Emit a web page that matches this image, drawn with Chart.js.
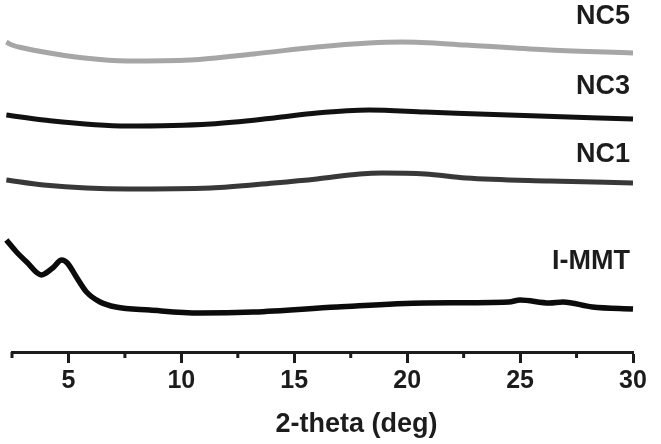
<!DOCTYPE html>
<html>
<head>
<meta charset="utf-8">
<script src="https://cdn.jsdelivr.net/npm/chart.js@4.4.1/dist/chart.umd.min.js"></script>
<style>
  html, body { margin: 0; padding: 0; background: #fff; }
  #wrap { width: 661px; height: 444px; }
</style>
</head>
<body>
<div id="wrap"><canvas id="xrd" width="661" height="444"></canvas></div>
<script>
// 2-theta positions (deg) and intensities (a.u., stacked with offsets)
const nc5X = [2.25, 2.5, 3.0, 3.9, 5.7, 7.6, 10.4, 13.2, 16.0, 18.3, 19.8, 22.6, 26.3, 30];
const nc5Y = [310, 307, 304, 300, 294, 291, 292, 298, 305, 309, 310, 307, 302, 299];

const nc3X = [2.25, 3.9, 7.6, 11.3, 14.1, 16.0, 18.3, 20.8, 24.5, 30];
const nc3Y = [237, 232, 226, 228, 234, 239, 242, 240, 237, 233];

const nc1X = [2.25, 3.9, 7.6, 11.3, 14.1, 16.0, 17.9, 18.9, 20.8, 22.6, 26.3, 30];
const nc1Y = [172, 167, 163, 164, 169, 173, 178, 179, 178, 174, 171, 169];

const mmtX = [2.25, 2.7, 3.15, 3.8, 4.3, 4.7, 4.95, 5.35, 5.8, 6.4, 7.1, 8.6, 10.8, 13.2, 16.9, 20.8, 24.5, 25.0, 26.3, 26.9, 28.2, 30];
const mmtY = [112, 100, 90, 77, 84, 92, 89, 75, 60, 50, 45, 42, 39, 40, 45, 49, 50, 52, 49, 50, 45, 43];

const seriesNames = ["NC5", "NC3", "NC1", "I-MMT"];
const majorTicks = [5, 10, 15, 20, 25, 30];
const minorTicks = [2.5, 7.5, 12.5, 17.5, 22.5, 27.5];
const axisTitle = "2-theta (deg)";

const toPoints = (xs, ys) => xs.map((x, i) => ({ x, y: ys[i] }));
const FONT = '"Liberation Sans", Arial, sans-serif';
const INK = "#1c1c1c";

// curve labels at the right end of each trace
const labelRows = [17, 87, 155, 262];
const curveLabels = {
  id: "curveLabels",
  afterDraw(chart) {
    const { ctx, chartArea } = chart;
    ctx.save();
    ctx.font = `bold 27px ${FONT}`;
    ctx.fillStyle = INK;
    ctx.textAlign = "right";
    ctx.textBaseline = "middle";
    seriesNames.forEach((name, i) => ctx.fillText(name, chartArea.right - 3, labelRows[i]));
    ctx.restore();
  }
};

// short minor ticks + x axis title (sits right of centre in the original)
const axisExtras = {
  id: "axisExtras",
  afterDraw(chart) {
    const { ctx } = chart;
    const xs = chart.scales.x;
    ctx.save();
    ctx.strokeStyle = INK;
    ctx.lineWidth = 3;
    minorTicks.forEach((v) => {
      const px = xs.getPixelForValue(v);
      ctx.beginPath();
      ctx.moveTo(px, xs.top);
      ctx.lineTo(px, xs.top + 6);
      ctx.stroke();
    });
    ctx.font = `bold 27px ${FONT}`;
    ctx.fillStyle = INK;
    ctx.textAlign = "center";
    ctx.textBaseline = "middle";
    ctx.fillText(axisTitle, (xs.left + xs.right) / 2 + 34, xs.top + 73);
    ctx.restore();
  }
};

const line = (label, xs, ys, color, width) => ({
  label,
  data: toPoints(xs, ys),
  borderColor: color,
  borderWidth: width,
  pointRadius: 0,
  cubicInterpolationMode: "monotone",
  clip: 10,
  fill: false
});

new Chart(document.getElementById("xrd"), {
  type: "line",
  data: {
    datasets: [
      line("NC5", nc5X, nc5Y, "#a6a6a6", 5),
      line("NC3", nc3X, nc3Y, "#111", 5),
      line("NC1", nc1X, nc1Y, "#383838", 5),
      line("I-MMT", mmtX, mmtY, "#0b0b0b", 5.5)
    ]
  },
  options: {
    responsive: false,
    animation: false,
    layout: { padding: { left: 12, right: 28, top: 0, bottom: 45 } },
    plugins: { legend: { display: false }, tooltip: { enabled: false } },
    scales: {
      x: {
        type: "linear",
        min: 2.5,
        max: 30,
        border: { color: INK, width: 3 },
        grid: {
          drawOnChartArea: false,
          tickLength: 11,
          tickWidth: 3,
          tickColor: (c) => (majorTicks.includes(c.tick && c.tick.value) ? INK : "rgba(0,0,0,0)")
        },
        ticks: {
          stepSize: 2.5,
          autoSkip: false,
          maxRotation: 0,
          padding: 3,
          color: INK,
          font: { family: FONT, size: 25, weight: "bold" },
          callback: (v) => (majorTicks.includes(v) ? String(v) : "")
        }
      },
      y: { display: false, min: 0, max: 352 }
    }
  },
  plugins: [curveLabels, axisExtras]
});
</script>
</body>
</html>
